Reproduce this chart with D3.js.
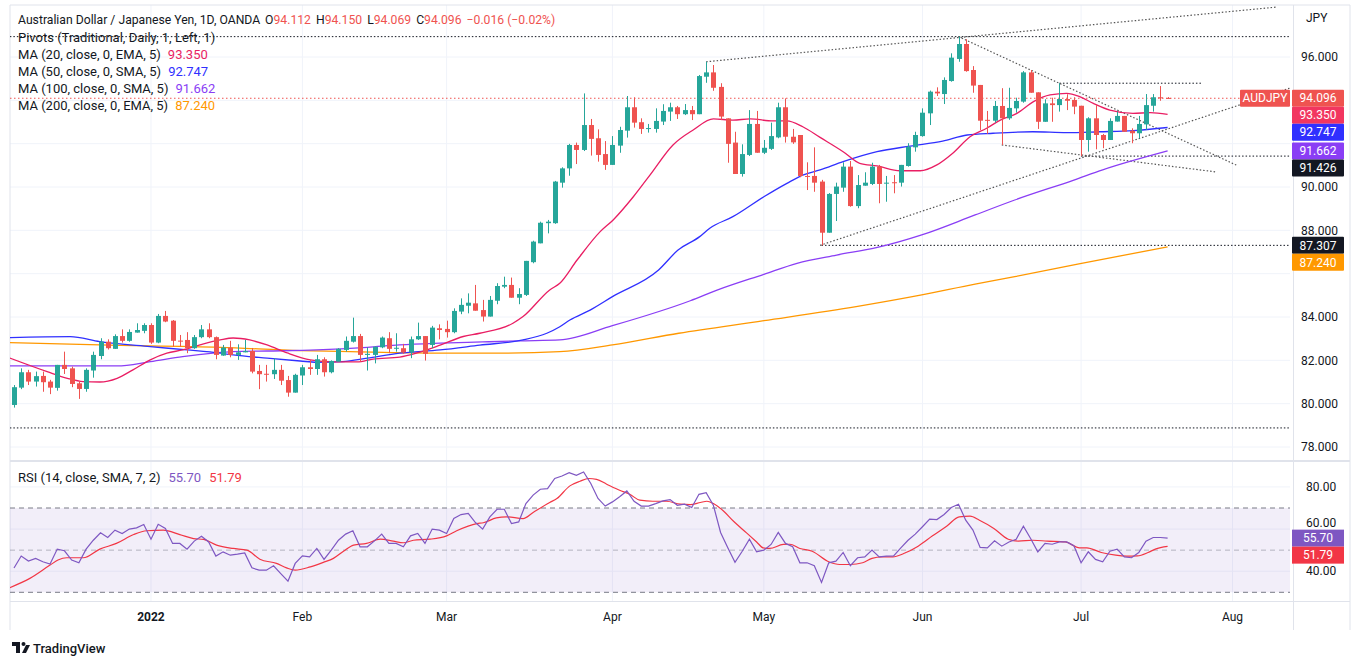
<!DOCTYPE html>
<html>
<head>
<meta charset="utf-8">
<script src="https://d3js.org/d3.v7.min.js"></script>
<style>
body { margin: 0; background: #fff; }
svg { display: block; font-family: Roboto, "Open Sans", "DejaVu Sans", sans-serif; }
</style>
</head>
<body>
<svg id="chart" width="1360" height="666"></svg>
<script>
"use strict";

// daily AUD/JPY candles, bar 0 = 7 Dec 2021 ... bar 160 = last bar (Jul 2022)
var opens = [79.94,80.74,81.45,81.02,81.28,81.02,80.73,81.79,81.63,80.94,
    80.68,81.53,82.20,82.86,82.53,83.12,82.90,83.28,83.36,83.63,
    82.82,84.05,83.83,82.91,82.94,82.56,83.07,83.43,83.07,82.22,
    82.59,82.25,82.37,82.43,81.51,81.38,81.36,81.56,81.09,80.51,
    81.30,81.68,81.60,82.05,81.45,81.94,82.48,82.86,83.12,82.25,
    82.25,82.60,83.02,82.56,82.56,82.37,82.97,83.12,82.71,83.48,
    83.45,83.30,84.25,84.52,84.63,84.32,84.02,84.75,85.40,85.48,
    84.89,85.02,86.53,87.40,88.33,88.33,90.20,90.86,91.94,91.71,
    92.86,92.25,91.52,91.02,91.91,92.60,93.68,92.99,92.69,92.68,
    93.02,93.48,93.68,93.36,93.55,93.36,95.09,95.29,94.62,93.17,
    92.05,90.60,91.48,92.91,91.58,91.76,92.29,93.68,92.32,92.40,
    90.51,90.51,90.25,87.89,89.68,89.97,90.94,89.12,90.06,90.14,
    90.94,90.18,90.22,90.20,90.97,91.83,92.35,93.40,94.40,94.29,
    94.89,95.91,96.60,95.40,94.71,93.10,93.06,93.74,93.17,93.63,
    93.94,95.29,94.37,93.01,93.86,93.78,94.06,94.02,93.75,92.17,
    93.17,92.40,92.17,93.02,93.28,92.60,92.48,92.89,93.75,94.14,
    94.112];
var highs = [80.86,81.63,81.56,81.48,81.48,81.10,81.79,82.40,81.71,81.02,
    81.63,82.40,83.02,82.97,83.20,83.43,83.43,83.71,83.71,83.71,
    84.14,84.28,83.86,83.17,83.30,83.17,83.63,83.71,83.10,82.71,
    82.90,82.74,82.94,82.57,81.79,81.79,82.10,81.79,81.28,81.38,
    81.79,82.02,82.25,82.14,82.00,82.56,83.10,83.97,83.22,82.60,
    82.63,83.10,83.30,83.25,82.76,83.10,83.74,83.12,83.59,83.66,
    83.83,84.40,84.86,85.09,85.48,84.79,84.97,85.56,85.86,85.82,
    85.33,86.59,87.52,88.40,88.48,90.28,90.91,91.99,92.05,94.32,
    93.14,92.66,92.12,92.35,92.78,94.20,94.14,93.17,92.91,93.63,
    93.82,93.89,93.74,93.83,93.74,95.17,95.78,95.63,94.79,93.17,
    92.55,91.97,93.55,93.51,92.17,92.97,93.89,94.09,92.68,92.40,
    91.14,91.83,90.33,89.72,90.20,91.14,91.20,90.55,90.68,91.12,
    91.02,90.51,90.55,91.02,92.02,92.55,93.63,94.45,94.60,95.06,
    96.17,96.94,96.82,95.58,94.71,93.51,93.97,94.56,94.58,94.12,
    95.35,95.40,94.37,94.05,94.12,94.79,94.28,94.14,93.75,93.22,
    93.78,92.45,93.17,93.48,93.28,92.71,93.28,94.29,94.29,94.66,
    94.150];
var lows = [79.82,80.67,80.86,80.79,80.55,80.44,80.60,81.37,80.76,80.22,
    80.55,81.20,82.05,82.50,82.53,82.82,82.86,83.28,83.25,82.76,
    82.79,83.76,82.63,82.63,82.33,82.53,83.02,83.02,82.05,82.21,
    82.14,82.02,82.37,81.40,80.67,81.02,81.14,80.86,80.32,80.51,
    80.86,81.33,81.33,81.25,81.40,81.94,82.40,82.82,81.94,81.53,
    81.86,82.56,82.33,82.40,82.30,82.10,82.94,81.99,82.56,82.97,
    83.05,83.25,84.13,84.17,84.29,83.79,84.02,84.59,85.33,84.89,
    84.59,84.97,86.48,87.40,87.86,88.30,89.97,90.52,91.06,91.66,
    91.45,91.17,90.79,91.02,91.58,92.28,92.74,92.45,92.51,92.51,
    92.86,93.05,93.14,93.32,93.09,93.36,94.81,94.44,93.09,91.12,
    90.60,90.48,91.43,91.58,91.52,91.71,92.25,92.05,91.99,90.45,
    89.86,89.78,87.307,87.89,88.43,89.78,89.09,89.02,90.06,90.09,
    89.25,89.32,89.71,90.02,90.94,91.63,92.32,92.86,94.20,93.83,
    94.86,95.78,95.32,94.35,92.63,92.45,92.97,91.94,93.10,93.43,
    93.89,94.35,92.68,93.01,93.01,93.48,93.55,93.36,91.43,91.63,
    91.74,91.79,92.17,93.02,92.55,92.02,92.25,92.63,93.48,93.98,
    94.069];
var closes = [80.76,81.45,81.02,81.27,80.99,80.74,81.79,81.60,80.91,80.68,
    81.56,82.25,82.86,82.56,83.12,82.90,83.31,83.40,83.63,82.82,
    84.05,83.79,82.90,82.89,82.56,83.07,83.43,83.07,82.25,82.59,
    82.25,82.37,82.43,81.48,81.36,81.36,81.56,81.06,80.51,81.33,
    81.68,81.60,82.05,81.45,81.97,82.53,82.90,83.12,82.25,82.30,
    82.63,83.05,82.53,82.58,82.37,82.97,83.12,82.30,83.51,83.40,
    83.30,84.28,84.56,84.66,84.29,84.02,84.79,85.43,85.48,84.89,
    85.06,86.59,87.48,88.35,88.40,90.25,90.86,91.94,91.71,92.86,
    92.22,91.48,91.02,91.94,92.63,93.68,92.97,92.68,92.72,93.05,
    93.51,93.68,93.36,93.55,93.36,95.12,95.29,94.58,93.25,91.99,
    90.60,91.52,92.91,91.58,91.81,92.35,93.68,92.32,92.06,90.51,
    90.48,90.20,87.89,89.68,90.02,90.94,89.12,90.09,90.20,90.94,
    90.14,90.20,90.20,91.02,91.86,92.40,93.43,94.40,94.32,94.94,
    95.97,96.60,95.35,94.68,93.06,93.09,93.74,93.17,93.65,93.97,
    95.29,94.35,93.01,93.86,93.78,94.06,93.98,93.71,92.17,93.17,
    92.40,92.17,93.05,93.28,92.55,92.48,92.91,93.78,94.14,94.11,
    94.096];

// moving averages as [bar, value]
var ma20 = [[-0.6,82.11],[4.6,81.48],[7.4,81.17],[9.6,81.02],[11.9,81.0],[14.3,81.17],[16.5,81.56],
    [18.9,82.02],[21.2,82.33],[23.4,82.48],[25.8,82.71],[28.6,82.94],[30.4,83.03],[32.7,82.94],
    [35.1,82.71],[37.9,82.34],[41.1,82.02],[44.2,81.93],[47.6,81.93],[49.8,82.06],[53.5,82.15],
    [55.9,82.34],[59.1,82.7],[62.3,83.1],[64.6,83.25],[69.2,83.71],[70.6,84.02],[74.3,85.25],
    [75.7,85.56],[78.1,86.63],[81.3,87.94],[83.1,88.48],[85.9,89.55],[88.2,90.55],[91.4,91.94],
    [94.2,92.63],[97,93.14],[99.7,93.09],[102.1,93.14],[105.3,93.05],[107.2,93.05],[109.4,92.78],
    [111.8,92.29],[115,91.63],[117.3,91.09],[119.7,90.97],[122.9,90.75],[125.7,90.75],[128,91.02],
    [130.2,91.56],[132.6,92.32],[134.9,92.71],[136.8,93.09],[139.1,93.4],[141.4,93.94],[143.7,94.25],
    [146,94.32],[147.8,94.17],[149.7,93.86],[152,93.55],[155.2,93.4],[157.6,93.43],[160,93.35]];
var ma50 = [[-0.6,83.05],[7.8,83.09],[11.9,82.86],[18.9,82.63],[24,82.48],[28.6,82.33],[30.4,82.25],
    [35.1,82.1],[39.7,81.97],[42,81.91],[45.6,81.94],[49,82.1],[53.5,82.33],[59.1,82.48],[64.6,82.7],
    [70.6,82.94],[73.9,83.25],[75.7,83.55],[77.1,83.86],[79.9,84.32],[83,84.94],[89.4,86.17],
    [92.1,87.09],[95.1,87.71],[96.5,88.1],[99.7,88.63],[104,89.55],[107.2,90.17],[109.4,90.55],
    [111.8,90.79],[115,91.17],[119.7,91.63],[124.3,91.89],[128.8,92.12],[132.2,92.4],[135.8,92.48],
    [141.3,92.55],[146,92.51],[150.6,92.55],[155.2,92.6],[160,92.747]];
var ma100 = [[-0.6,81.74],[14.3,81.74],[18.9,81.94],[23.4,82.17],[27.6,82.33],[30.4,82.4],[35.1,82.43],
    [42,82.48],[49,82.6],[53.5,82.71],[59.1,82.79],[65,82.85],[70,82.9],[75.7,82.94],[83,83.6],
    [93.8,84.75],[97.6,85.25],[104,85.97],[108.6,86.48],[114.1,86.86],[119.6,87.2],[125.9,87.79],
    [133.3,88.71],[138.8,89.4],[147,90.32],[151,90.79],[160,91.662]];
var ma200 = [[-0.6,82.82],[11.9,82.71],[28.6,82.6],[39.7,82.45],[46.6,82.4],[59.1,82.33],[67,82.33],
    [75.7,82.4],[83,82.71],[92.2,83.25],[104,83.83],[116.8,84.48],[125.9,85.02],[133.3,85.52],
    [138.8,85.86],[147.7,86.45],[160,87.24]];

// RSI(14) per bar and its SMA(7) signal as [bar, value]
var rsi = [41.5,47.2,44.8,46.1,44.5,43.4,50.5,49.7,45.3,44.0,
    50.5,54.7,58.2,56.0,59.5,57.9,60.0,60.6,62.2,55.2,
    62.3,60.3,53.2,53.2,50.5,54.3,56.6,53.9,47.2,49.2,
    47.6,48.1,48.7,41.6,40.5,40.5,42.6,38.9,35.3,43.7,
    47.3,46.8,50.8,45.6,50.0,54.7,57.6,59.2,51.6,51.6,
    54.4,57.6,53.2,53.2,51.6,56.8,57.9,53.2,60.0,59.5,
    57.9,65.0,66.9,67.4,63.1,60.0,65.8,69.4,69.4,62.6,
    63.4,72.1,76.1,78.9,79.2,84.0,85.2,86.8,85.5,87.1,
    81.6,74.5,70.9,72.9,75.3,78.1,73.2,70.9,70.9,72.1,
    73.4,74.0,71.3,71.8,70.2,76.5,77.3,71.3,58.4,51.1,
    44.2,49.5,55.2,49.2,50.0,52.7,58.4,53.2,51.6,44.0,
    44.0,42.6,34.7,44.0,44.8,48.9,42.6,46.4,46.8,50.0,
    46.8,47.2,47.3,51.1,54.7,57.6,61.1,64.7,64.5,66.9,
    70.2,71.8,64.2,59.5,51.3,51.1,54.4,51.9,53.9,55.2,
    61.4,55.5,49.2,53.2,52.8,53.9,53.9,52.1,44.0,49.2,
    45.6,44.5,49.5,50.5,46.8,46.4,48.9,54.3,56.0,56.0,
    55.70];
var rsiSignal = [[-0.6,32.2],[2.2,36.6],[5,42.9],[6.1,45.3],[7.3,46.4],[9.6,46.4],[11.9,50.5],[14.2,53.2],
    [16.6,57.4],[18.4,59.2],[20.7,59.5],[23,57.4],[24.9,55.5],[26.3,55.1],[28.1,52.4],[30.4,50.8],
    [32.3,50],[34.1,45.7],[36.4,43.7],[37.8,41.6],[39,40.5],[41.1,42.1],[42.9,44.2],[44.3,46.1],
    [45.7,49.5],[47.1,52.4],[48.9,53.2],[50.8,55.2],[52.6,54.3],[54,53.5],[55.4,54.7],[57.7,55.2],
    [60,56.8],[61.4,59.2],[64.2,62.6],[65.1,63],[66.9,65.3],[68.3,65.8],[70.6,65],[72,67.9],
    [74.3,72.6],[75.3,74.5],[77.1,80.5],[78.5,82.7],[79.7,84],[80.8,83.6],[82.2,81.3],[84,78.4],
    [85.4,76.5],[86.8,73.7],[88.6,73.2],[90.5,73.2],[92.4,71.8],[93.8,71.6],[95.2,72.6],[96.1,73.2],
    [97,72.1],[98.4,68.6],[99.8,63.7],[101.6,58.2],[103,53.9],[103.9,51.1],[104.8,50.8],[106.7,52.7],
    [107.6,52.8],[109,50.8],[110.7,49.5],[113,44.5],[114.5,43.2],[116,43.2],[117.7,44],[119,46.1],
    [120.4,46.8],[121.9,46.8],[123.4,48.4],[125.4,51.9],[127.4,56.8],[129.4,61.5],[131.1,65.8],
    [132.6,66.1],[133.9,64.2],[135.9,60.3],[137.9,55.2],[139.3,54.3],[141.3,54.7],[143.3,54.3],
    [145.8,53.9],[147.8,51.1],[148.8,51.1],[150.8,48.9],[152.8,47.6],[154.3,47.2],[155.8,47.3],
    [157.3,48.9],[158.3,50.5],[160,51.79]];

// user drawings: sloped trendlines [[bar, price], [bar, price]] and horizontal levels
var trendLines = [
    [[96, 95.78], [175, 98.3]],
    [[131, 96.94], [169.6, 91.0]],
    [[137, 91.94], [166.6, 90.7]],
    [[111.8, 87.307], [177, 94.57]]
];
var levelPrices = [96.94, 78.88, 94.79, 91.426, 87.307];
var levelFrom = [-3, -3, 145, 148, 112];
var levelTo = [178, 178, 164.7, 178, 178];

var priceTicks = [78, 80, 82, 84, 86, 88, 90, 92, 94, 96];
var rsiTicks = [40, 60, 80];
var monthLabels = ["2022", "Feb", "Mar", "Apr", "May", "Jun", "Jul", "Aug"];
var monthBars = [19, 40, 60, 83, 104, 126, 148, 169];

var maNames = ["MA (20, close, 0, EMA, 5)", "MA (50, close, 0, SMA, 5)",
    "MA (100, close, 0, SMA, 5)", "MA (200, close, 0, EMA, 5)"];
var maColors = ["#e91e63", "#3030ff", "#8a3ef5", "#ff9800"];
var maValues = ["93.350", "92.747", "91.662", "87.240"];

var UP = "#26a69a", DOWN = "#ef5350", TEXT = "#131722", GRID = "#f0f3fa";

var svg = d3.select("#chart");
var left = 10, right = 1290, mainTop = 5, mainBottom = 460, rsiTop = 462, rsiBottom = 601;

var x = d3.scaleLinear().domain([0, 160]).range([14, 14 + 160 * 7.21]);
var y = d3.scaleLinear().domain([78, 96]).range([447, 57]);
var yr = d3.scaleLinear().domain([30, 70]).range([592.3, 508]);

svg.append("rect").attr("width", 1360).attr("height", 666).attr("fill", "#fff");

var defs = svg.append("defs");
defs.append("clipPath").attr("id", "clipMain").append("rect")
    .attr("x", left).attr("y", mainTop).attr("width", right - left).attr("height", mainBottom - mainTop);
defs.append("clipPath").attr("id", "clipRsi").append("rect")
    .attr("x", left).attr("y", rsiTop).attr("width", right - left).attr("height", rsiBottom - rsiTop);

// grid
var grid = svg.append("g");
grid.selectAll("line.hp").data(priceTicks).join("line")
    .attr("x1", left).attr("x2", right)
    .attr("y1", function (d) { return y(d); }).attr("y2", function (d) { return y(d); })
    .attr("stroke", GRID);
grid.selectAll("line.hr").data(rsiTicks).join("line")
    .attr("x1", left).attr("x2", right)
    .attr("y1", function (d) { return yr(d); }).attr("y2", function (d) { return yr(d); })
    .attr("stroke", GRID);
monthBars.forEach(function (b) {
    grid.append("line").attr("x1", x(b)).attr("x2", x(b))
        .attr("y1", mainTop).attr("y2", rsiBottom).attr("stroke", GRID);
});

// frame and pane separators
svg.append("line").attr("x1", left).attr("x2", 1350).attr("y1", mainTop).attr("y2", mainTop).attr("stroke", "#e0e3eb");
svg.append("line").attr("x1", left).attr("x2", left).attr("y1", mainTop).attr("y2", 630).attr("stroke", "#e0e3eb");
svg.append("rect").attr("x", left).attr("y", mainBottom).attr("width", 1340).attr("height", 2).attr("fill", "#e0e3eb");
svg.append("line").attr("x1", left).attr("x2", 1350).attr("y1", rsiBottom + 0.5).attr("y2", rsiBottom + 0.5).attr("stroke", "#e0e3eb");
svg.append("line").attr("x1", right + 3.5).attr("x2", right + 3.5).attr("y1", mainTop).attr("y2", 630).attr("stroke", "#e0e3eb");
svg.append("line").attr("x1", 1350).attr("x2", 1350).attr("y1", mainTop).attr("y2", 630).attr("stroke", "#e0e3eb");

// main pane
var main = svg.append("g").attr("clip-path", "url(#clipMain)");

// horizontal levels and trendlines (dotted)
levelPrices.forEach(function (p, k) {
    main.append("line")
        .attr("x1", x(levelFrom[k])).attr("x2", x(levelTo[k]))
        .attr("y1", y(p)).attr("y2", y(p))
        .attr("stroke", TEXT).attr("stroke-width", 1).attr("stroke-dasharray", "1.5,2");
});
trendLines.forEach(function (t) {
    main.append("line")
        .attr("x1", x(t[0][0])).attr("y1", y(t[0][1]))
        .attr("x2", x(t[1][0])).attr("y2", y(t[1][1]))
        .attr("stroke", "#555").attr("stroke-width", 1.2).attr("stroke-dasharray", "1.5,2");
});

// last price line
main.append("line").attr("x1", left).attr("x2", right)
    .attr("y1", y(closes[160])).attr("y2", y(closes[160]))
    .attr("stroke", DOWN).attr("stroke-dasharray", "1.5,2.5");

// moving averages
var maLine = d3.line()
    .x(function (d) { return x(d[0]); })
    .y(function (d) { return y(d[1]); })
    .curve(d3.curveMonotoneX);
[ma200, ma100, ma50, ma20].forEach(function (s, k) {
    main.append("path").datum(s)
        .attr("fill", "none")
        .attr("stroke", maColors[3 - k])
        .attr("stroke-width", 1.3)
        .attr("d", maLine);
});

// candles
var bars = d3.range(opens.length);
var candle = main.append("g").selectAll("g").data(bars).join("g");
candle.append("line")
    .attr("x1", function (i) { return Math.round(x(i)) + 0.5; })
    .attr("x2", function (i) { return Math.round(x(i)) + 0.5; })
    .attr("y1", function (i) { return y(highs[i]); })
    .attr("y2", function (i) { return y(lows[i]); })
    .attr("stroke", function (i) { return closes[i] >= opens[i] ? UP : DOWN; });
candle.append("rect")
    .attr("x", function (i) { return Math.round(x(i)) - 2; })
    .attr("width", 5)
    .attr("y", function (i) { return y(Math.max(opens[i], closes[i])); })
    .attr("height", function (i) { return Math.max(1, Math.abs(y(opens[i]) - y(closes[i]))); })
    .attr("fill", function (i) { return closes[i] >= opens[i] ? UP : DOWN; });

// RSI pane
var rsiG = svg.append("g").attr("clip-path", "url(#clipRsi)");
rsiG.append("rect").attr("x", left).attr("width", right - left)
    .attr("y", yr(70)).attr("height", yr(30) - yr(70))
    .attr("fill", "rgba(126,87,194,0.1)");
[70, 50, 30].forEach(function (v) {
    rsiG.append("line").attr("x1", left).attr("x2", right)
        .attr("y1", yr(v)).attr("y2", yr(v))
        .attr("stroke", "#787b86").attr("stroke-opacity", v === 50 ? 0.5 : 1)
        .attr("stroke-dasharray", "5,4");
});
rsiG.append("path").datum(rsiSignal)
    .attr("fill", "none").attr("stroke", "#f23645").attr("stroke-width", 1.2)
    .attr("d", d3.line().x(function (d) { return x(d[0]); }).y(function (d) { return yr(d[1]); })
        .curve(d3.curveMonotoneX));
rsiG.append("path").datum(rsi)
    .attr("fill", "none").attr("stroke", "#7e57c2").attr("stroke-width", 1.2)
    .attr("d", d3.line().x(function (d, i) { return x(i); }).y(function (d) { return yr(d); }));

// price axis
var badges = [
    { v: 94.096, c: DOWN }, { v: 93.350, c: "#f23660" }, { v: 92.747, c: "#3030ff" },
    { v: 91.662, c: "#8a3ef5" }, { v: 91.426, c: TEXT }, { v: 87.307, c: TEXT }, { v: 87.240, c: "#ff9800" }
];
var lastY = -100;
badges.forEach(function (b) {
    b.y = Math.max(y(b.v), lastY + 17);
    lastY = b.y;
});
var axis = svg.append("g").attr("font-size", 12).attr("fill", TEXT);
priceTicks.forEach(function (v) {
    var yy = y(v);
    var hidden = badges.some(function (b) { return Math.abs(b.y - yy) < 13; });
    if (!hidden) {
        axis.append("text").attr("x", 1301).attr("y", yy).attr("dy", "0.35em").text(v.toFixed(3));
    }
});
badges.forEach(function (b) {
    axis.append("rect").attr("x", 1292).attr("y", b.y - 8.5).attr("width", 52).attr("height", 17)
        .attr("rx", 1).attr("fill", b.c);
    axis.append("text").attr("x", 1318).attr("y", b.y).attr("dy", "0.35em")
        .attr("text-anchor", "middle").attr("fill", "#fff").text(b.v.toFixed(3));
});
axis.append("rect").attr("x", 1240).attr("y", badges[0].y - 8.5).attr("width", 50).attr("height", 17)
    .attr("rx", 1).attr("fill", DOWN);
axis.append("text").attr("x", 1265).attr("y", badges[0].y).attr("dy", "0.35em")
    .attr("text-anchor", "middle").attr("fill", "#fff").text("AUDJPY");
axis.append("text").attr("x", 1306).attr("y", 18).attr("dy", "0.35em").text("JPY");

// 60.00 sits just above the RSI badge so that the two do not collide
var rsiLabelY = [yr(40), yr(60) - 6, yr(80)];
rsiTicks.forEach(function (v, k) {
    axis.append("text").attr("x", 1306).attr("y", rsiLabelY[k]).attr("dy", "0.35em").text(v.toFixed(2));
});
var rsiBadges = [{ v: 55.70, c: "#7e57c2" }, { v: 51.79, c: "#f23645" }];
lastY = -100;
rsiBadges.forEach(function (b) {
    b.y = Math.max(yr(b.v), lastY + 17);
    lastY = b.y;
    axis.append("rect").attr("x", 1292).attr("y", b.y - 8.5).attr("width", 52).attr("height", 17)
        .attr("fill", b.c);
    axis.append("text").attr("x", 1318).attr("y", b.y).attr("dy", "0.35em")
        .attr("text-anchor", "middle").attr("fill", "#fff").text(b.v.toFixed(2));
});

// time axis
monthBars.forEach(function (b, k) {
    axis.append("text").attr("x", x(b)).attr("y", 617).attr("dy", "0.35em")
        .attr("text-anchor", "middle")
        .attr("font-weight", k === 0 ? "bold" : "normal")
        .text(monthLabels[k]);
});

// legends
var legend = svg.append("g").attr("font-size", 13).attr("fill", TEXT);
var head = legend.append("text").attr("x", 18).attr("y", 20).attr("dy", "0.35em").attr("font-size", 12.2);
head.append("tspan").text("Australian Dollar / Japanese Yen, 1D, OANDA");
[["O", "94.112"], ["H", "94.150"], ["L", "94.069"], ["C", "94.096"]].forEach(function (p) {
    head.append("tspan").attr("dx", 5).text(p[0]);
    head.append("tspan").attr("fill", DOWN).text(p[1]);
});
head.append("tspan").attr("dx", 5).attr("fill", DOWN).text("\u22120.016 (\u22120.02%)");

legend.append("text").attr("x", 18).attr("y", 37).attr("dy", "0.35em")
    .text("Pivots (Traditional, Daily, 1, Left, 1)");
maNames.forEach(function (n, k) {
    var t = legend.append("text").attr("x", 18).attr("y", 54 + k * 17).attr("dy", "0.35em");
    t.append("tspan").text(n);
    t.append("tspan").attr("dx", 7).attr("fill", maColors[k]).text(maValues[k]);
});
var rl = legend.append("text").attr("x", 18).attr("y", 477).attr("dy", "0.35em");
rl.append("tspan").text("RSI (14, close, SMA, 7, 2)");
rl.append("tspan").attr("dx", 8).attr("fill", "#7e57c2").text("55.70");
rl.append("tspan").attr("dx", 8).attr("fill", "#f23645").text("51.79");

// TradingView mark
var logo = svg.append("g").attr("fill", TEXT);
logo.append("path").attr("d", "M12,642 h8 v11 h-4 v-7 h-4 z");
logo.append("circle").attr("cx", 23.5).attr("cy", 644).attr("r", 2);
logo.append("path").attr("d", "M22,653 l4,-8 h4 l-4,8 z");
logo.append("text").attr("x", 33).attr("y", 648).attr("dy", "0.35em")
    .attr("font-size", 13).attr("font-weight", 500).text("TradingView");
</script>
</body>
</html>
